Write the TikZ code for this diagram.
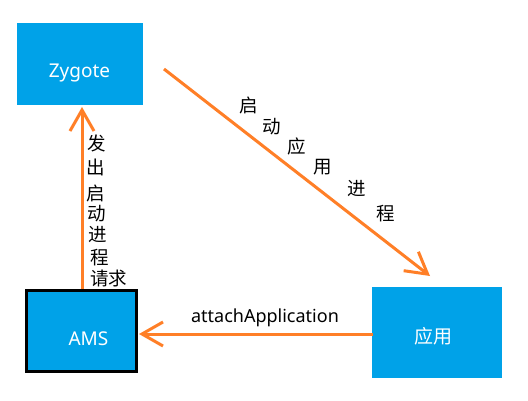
\documentclass[tikz,border=0pt]{standalone}
\usepackage{fontspec}
\setmainfont{Noto Sans}
\newfontfamily\cjk{Noto Sans CJK SC}
\usetikzlibrary{arrows.meta}
\definecolor{boxblue}{HTML}{00A2E8}
\definecolor{arrowor}{HTML}{FF7F27}
\tikzset{
  box/.style={fill=boxblue, inner sep=0pt, outer sep=0pt},
  boxtext/.style={text=white, inner sep=0pt, font=\fontsize{19pt}{22pt}\selectfont},
  boxcjk/.style={text=white, inner sep=0pt, font=\cjk\fontsize{19pt}{22pt}\selectfont},
  lbl/.style={text=black, inner sep=0pt, font=\cjk\fontsize{18.5pt}{20pt}\selectfont},
  latlbl/.style={text=black, inner sep=0pt, font=\fontsize{18pt}{22pt}\selectfont},
  conn/.style={draw=arrowor, line width=3pt, -{Straight Barb[length=21pt,width=24pt]}}
}
\begin{document}
\begin{tikzpicture}[x=1pt,y=-1pt]
\useasboundingbox[fill=white] (0,0) rectangle (528,401);
% boxes
\node[box, minimum width=126pt, minimum height=82pt] (zyg) at (80,64) {};
\node[box, draw=black, line width=3pt, minimum width=110pt, minimum height=81pt] (ams) at (81.5,331) {};
\node[box, minimum width=130pt, minimum height=91pt] (app) at (437,332.5) {};
% box texts
\node[boxtext] (zygt) at (79.5,73) {Zygote};
\node[boxtext] (amst) at (88.5,338.5) {AMS};
\node[boxcjk] (appt) at (433,336.5) {应用};
% connector ends
\coordinate (v1) at (82,289);
\coordinate (v2) at (82,107);
\coordinate (d1) at (164,69);
\coordinate (d2) at (430,276);
\coordinate (h1) at (373,334);
\coordinate (h2) at (139,334);
\draw[conn] (v1) -- (v2);
\draw[conn] (d1) -- (d2);
\draw[conn] (h1) -- (h2);
% labels on vertical
\node[lbl] (l1) at (97,143.5) {发};
\node[lbl] (l2) at (96,167.5) {出};
\node[lbl] (l3) at (96,193) {启};
\node[lbl] (l4) at (97,214) {动};
\node[lbl] (l5) at (98,234.5) {进};
\node[lbl] (l6) at (99.5,258) {程};
\node[lbl] (l7) at (108.5,278.5) {请求};
% labels on diagonal
\node[lbl] (m1) at (248.5,105) {启};
\node[lbl] (m2) at (272,127) {动};
\node[lbl] (m3) at (297,146.5) {应};
\node[lbl] (m4) at (323,167) {用};
\node[lbl] (m5) at (357,189) {进};
\node[lbl] (m6) at (386,214) {程};
% label on horizontal
\node[latlbl] (h) at (265,318) {attachApplication};
\end{tikzpicture}
\end{document}
